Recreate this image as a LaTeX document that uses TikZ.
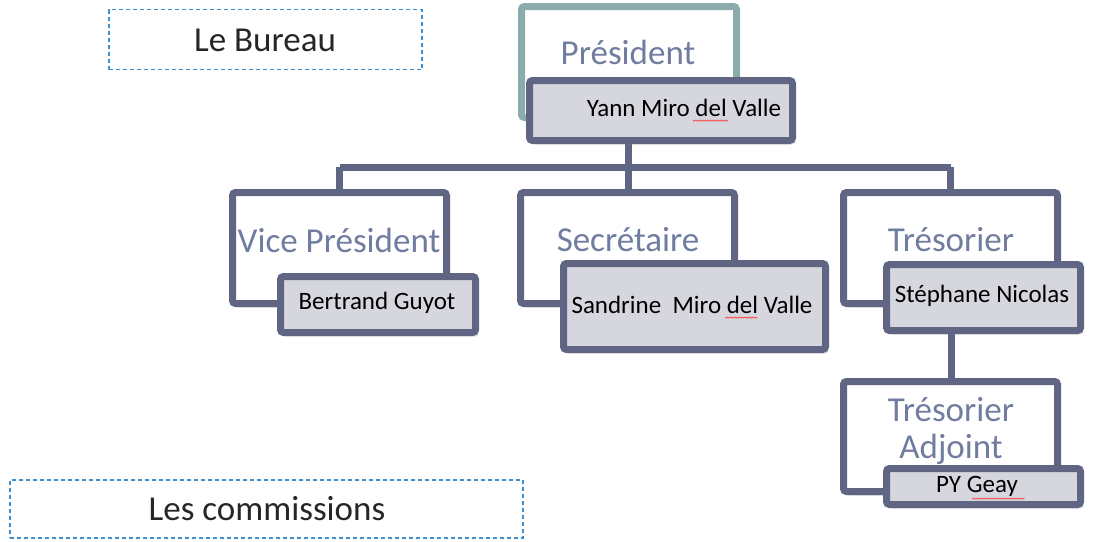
\documentclass[tikz,border=0pt]{standalone}
\usepackage{fontspec}
\setmainfont{Carlito}
\usetikzlibrary{shadows}
\definecolor{frame}{RGB}{95,101,130}
\definecolor{teal}{RGB}{138,172,172}
\definecolor{namefill}{RGB}{214,215,222}
\definecolor{role}{RGB}{112,124,160}
\definecolor{dashblue}{RGB}{60,143,208}
\begin{document}
\begin{tikzpicture}[x=1pt,y=-1pt,
  rolebox/.style={draw=frame,line width=7pt,fill=white,rounded corners=3pt,minimum width=214pt,minimum height=111pt,inner sep=0pt,
    drop shadow={opacity=0.25,shadow xshift=3pt,shadow yshift=-4pt}},
  namebox/.style={draw=frame,line width=7pt,fill=namefill,rounded corners=3pt,inner sep=0pt,
    drop shadow={opacity=0.25,shadow xshift=3pt,shadow yshift=-4pt}},
  roletext/.style={text=role,font=\fontsize{35}{37}\selectfont,inner sep=0pt,align=center},
  nametext/.style={text=black,font=\fontsize{25}{30}\selectfont,inner sep=0pt},
  conn/.style={draw=frame,line width=7pt},
  dashbox/.style={draw=dashblue,line width=1.3pt,dash pattern=on 4pt off 3pt,inner sep=0pt},
  headtext/.style={text=black!85,font=\fontsize{35}{40}\selectfont,inner sep=0pt},
  squig/.style={draw=red!80,line width=0.6pt}]
\useasboundingbox (0,0) rectangle (1094,541);

% dashed title boxes
\node[dashbox,minimum width=313pt,minimum height=60pt] (bureau) at (265.5,39.5) {};
\node[headtext] (bureaut) at (265,40) {Le Bureau};
\node[dashbox,minimum width=513pt,minimum height=58pt] (comm) at (266.5,509) {};
\node[headtext] (commt) at (267,509) {Les commissions};

% connectors
\coordinate (hub) at (628,167);
\coordinate (hubl) at (339.5,167);
\coordinate (hubr) at (950.5,167);
\draw[conn] (628,140) -- (hub);
\draw[conn] (hubl) -- (hubr);
\draw[conn] (hubl) -- (339.5,195);
\draw[conn] (hub) -- (628,195);
\draw[conn] (hubr) -- (950.5,195);
\draw[conn] (951,330) -- (951,382);

% President
\node[rolebox,draw=teal,drop shadow={opacity=0},minimum width=215pt] (pres) at (629,62) {};
\node[roletext] (prest) at (628,52) {Président};
\node[namebox,minimum width=263pt,minimum height=60pt] (yann) at (661,110.5) {};
\node[nametext] (yannt) at (684,108) {Yann Miro del Valle};

% Vice president
\node[rolebox] (vice) at (339.5,248) {};
\node[roletext] (vicet) at (339,240) {Vice Président};
\node[namebox,minimum width=195pt,minimum height=56pt] (bert) at (378,304.5) {};
\node[nametext] (bertt) at (377,303) {Bertrand Guyot};

% Secretaire
\node[rolebox] (secr) at (627.5,248) {};
\node[roletext] (secrt) at (628,240) {Secrétaire};
\node[namebox,minimum width=262pt,minimum height=86pt] (sand) at (694.5,306.5) {};
\node[nametext] (sandt) at (692,305) {Sandrine\ \ Miro del Valle};

% Tresorier
\node[rolebox] (treso) at (950.5,248) {};
\node[roletext] (tresot) at (951,240) {Trésorier};
\node[namebox,minimum width=194pt,minimum height=66pt] (steph) at (983.5,297.5) {};
\node[nametext] (stepht) at (982,296) {Stéphane Nicolas};

% Tresorier adjoint
\node[rolebox,minimum height=110pt] (adj) at (950.5,436.5) {};
\node[roletext] (adjt) at (951,431) {Trésorier\\Adjoint};
\node[namebox,minimum width=194pt,minimum height=36pt] (py) at (983.5,486.5) {};
\node[nametext] (pyt) at (977,486) {PY Geay};

% spell-check squiggles
\draw[squig] (693,120) \foreach \i in {1,...,14} { -- ++(1.25,1.2) -- ++(1.25,-1.2)};
\draw[squig] (725,317) \foreach \i in {1,...,13} { -- ++(1.25,1.2) -- ++(1.25,-1.2)};
\draw[squig] (972,498) \foreach \i in {1,...,21} { -- ++(1.25,1.2) -- ++(1.25,-1.2)};
\end{tikzpicture}
\end{document}
